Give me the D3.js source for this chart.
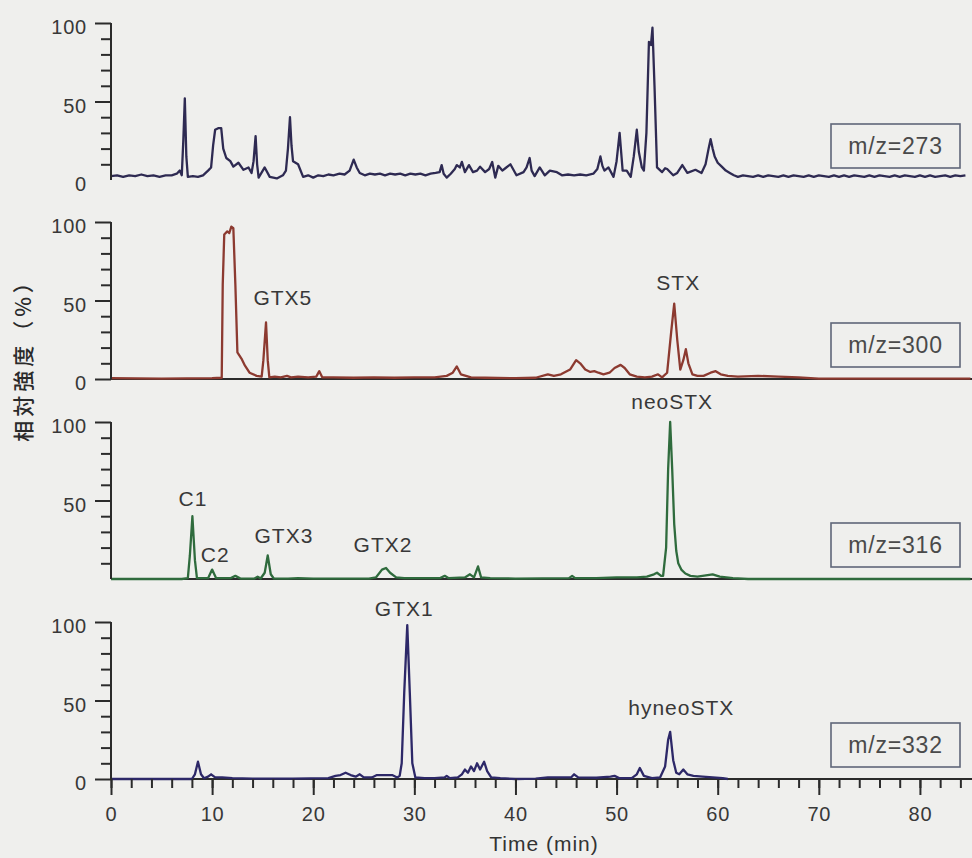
<!DOCTYPE html>
<html><head><meta charset="utf-8">
<script src="https://cdn.jsdelivr.net/npm/d3@7"></script>
<style>html,body{margin:0;padding:0;background:#efefed;} svg{display:block;}</style>
</head><body><svg id="c" width="972" height="858"></svg>
<script>
// ---------- data ----------
const mzLabels = ["m/z=273", "m/z=300", "m/z=316", "m/z=332"];
const xMajorTicks = [0, 10, 20, 30, 40, 50, 60, 70, 80];
const xMinorTicks = [0,2,4,6,8,10,12,14,16,18,20,22,24,26,28,30,32,34,36,38,40,42,44,46,48,50,52,54,56,58,60,62,64,66,68,70,72,74,76,78,80,82,84];
const yLabelTicks = [[0, 50, 100], [0, 50, 100], [50, 100], [0, 50, 100]];
const yMinorTicks = [10, 20, 30, 40, 60, 70, 80, 90];
const yAxisTitle = "相対強度（%）";
const xAxisTitle = "Time (min)";

const mz273 = [
[0,2.5],[0.6,3],[1.2,2],[1.8,3],[2.4,2.5],[3,3.5],[3.6,2.5],[4.2,3],[4.8,2],[5.4,3],[6,3],[6.5,4],[6.8,6],[7.0,3],[7.15,25],[7.3,52],[7.45,15],[7.6,2],[8.1,2.5],[8.6,2],[9.1,3],[9.6,6],[9.9,8],[10.1,22],[10.3,32],[10.6,33],[10.9,33],[11.1,20],[11.4,14],[11.8,12],[12.1,8.5],[12.6,11],[13.1,6.5],[13.6,8],[13.9,4.5],[14.1,12],[14.3,28],[14.45,10],[14.6,1.5],[15.2,8],[15.7,2],[16.4,1],[17.0,3],[17.3,6],[17.5,20],[17.7,40],[17.85,22],[18.0,12],[18.5,10],[19.0,2],[19.5,3],[20,1.5],[20.5,3],[21,2.5],[21.5,3.5],[22,3],[22.6,4],[23.1,3.5],[23.6,6],[24.0,13],[24.3,8],[24.6,4.5],[25.1,3],[25.6,4],[26.1,3.5],[26.6,4],[27.1,3],[27.6,4],[28.1,3.5],[28.6,4],[29.1,3],[29.6,4],[30.1,3.5],[30.6,4],[31.1,3],[31.6,4],[32.1,4.5],[32.5,5],[32.7,9.5],[32.9,4],[33.2,1.5],[33.6,4],[34.0,7],[34.2,9.5],[34.5,8],[34.7,11.5],[35.0,5],[35.4,9.5],[35.8,5],[36.2,6],[36.5,8.5],[37.0,5],[37.4,7],[37.7,11.5],[38.0,1.5],[38.3,9],[38.7,6],[39.0,7.5],[39.5,10],[40.1,3],[40.8,5],[41.1,8],[41.4,14],[41.6,6],[41.9,2.5],[42.4,8],[42.9,3],[43.4,6],[44.1,5],[44.6,3],[45.2,3.5],[45.8,3],[46.4,3.5],[47.0,3],[47.7,4],[48.1,7],[48.4,15],[48.6,9],[48.8,6],[49.2,8],[49.7,2],[50.0,12],[50.3,30],[50.5,14],[50.6,6],[51.0,6],[51.4,2],[51.7,15],[52.0,32],[52.2,18],[52.5,8],[52.7,6],[52.95,30],[53.2,88],[53.4,86],[53.55,97],[53.75,60],[54.0,8],[54.5,5],[54.8,7.5],[55.0,7],[55.6,3],[56.0,4.5],[56.5,9.5],[57.0,4.5],[57.8,6.5],[58.4,4.5],[58.8,10],[59.1,20],[59.3,26],[59.5,20],[59.7,15],[60.0,11],[60.4,8.5],[60.8,6],[61.2,4.5],
[61.6,3],[62,2],[62.5,3],[63,2.5],[63.5,2],[64,3],[64.5,2],[65,3],[65.5,2.5],[66,2],[66.5,3],[67,2],[67.5,3],[68,2.5],[68.5,2],[69,3],[69.5,2],[70,3],[70.5,2.5],[71,2],[71.5,3],[72,2],[72.5,3],[73,2],[73.5,3],[74,2.5],[74.5,2],[75,3],[75.5,2],[76,3],[76.5,2.5],[77,2],[77.5,3],[78,2],[78.5,3],[79,2.5],[79.5,2],[80,3],[80.5,2],[81,3],[81.5,2],[82,2.5],[82.5,3],[83,2],[83.5,3],[84,2.5],[84.5,3]
];

const mz300 = [
[0,0.5],[5,0.3],[10,0.5],[10.95,0.8],[11.05,60],[11.2,92],[11.5,94],[11.7,93],[11.9,97],[12.1,96],[12.3,60],[12.5,17],[12.9,13],[13.25,8.5],[13.7,4],[14.4,2],[14.9,1.5],[15.07,12],[15.33,36],[15.5,12],[15.66,1],[16.2,1.5],[16.8,1],[17.4,2],[17.8,1],[18.5,1.5],[19.5,1],[20.3,1.5],[20.6,5],[20.9,1],[22,1],[24,0.8],[26,1],[28,0.8],[30,1],[32,1],[33.2,2],[33.8,4],[34.2,8],[34.6,3],[35.1,2],[35.6,1],[37,0.8],[40,0.5],[42,0.8],[43.2,3],[43.8,2],[44.5,3],[45.4,6],[46.0,12],[46.4,10],[46.9,6],[47.4,4.5],[47.8,5],[48.2,4],[48.7,3],[49.3,4],[49.8,7],[50.4,9],[50.8,7],[51.3,3],[52,1.5],[52.8,1],[53.5,1.5],[54.1,3],[54.5,1],[55.0,4],[55.4,30],[55.7,48],[56.0,25],[56.3,6],[56.6,12],[56.85,19],[57.1,10],[57.5,3],[58,2],[58.6,2],[59.3,4],[59.8,5],[60.3,3],[61,2],[62,1.5],[64,2],[66,1.5],[68,1],[70,0.3],[85,0.3]
];

const mz316 = [
[0,0],[7,0],[7.6,0.5],[7.8,15],[8.05,40],[8.3,12],[8.5,0.5],[9.6,0.5],[10.0,6],[10.4,0.5],[11.8,0.5],[12.3,2],[12.8,0.3],[14.2,0.3],[14.5,1.5],[14.8,0.3],[15.2,4],[15.5,15],[15.8,3],[16.1,0.3],[17.5,0.3],[18.5,0.5],[20,0.3],[25.5,0.3],[26.2,1],[26.8,6],[27.2,7],[27.6,4],[28.2,1],[29,0.5],[32.5,0.5],[33,2],[33.4,0.5],[35,1],[35.5,3],[35.9,1],[36.3,8],[36.6,1],[37.5,0.5],[40,0.3],[45.3,0.5],[45.6,2],[45.9,0.5],[48,0.5],[50,1],[52,1],[53,1.5],[53.7,3],[54.0,4],[54.4,2],[54.6,2],[54.9,20],[55.1,70],[55.3,100],[55.5,70],[55.7,35],[55.9,18],[56.1,10],[56.4,6],[56.8,3.5],[57.3,2],[58,1.5],[59,2.5],[59.5,3],[60.2,1.5],[61.5,0.5],[63,0],[85,0]
];

const mz332 = [
[0,0],[8.0,0],[8.3,3],[8.6,11],[8.9,3],[9.2,0.5],[9.6,1.5],[9.9,3],[10.3,1],[11,1],[12,0.5],[14,0.3],[18,0.3],[21.5,0.5],[22.2,2],[22.7,2.5],[23.2,4],[23.7,2.5],[24.2,1.5],[24.6,3],[25,1],[25.8,1],[26.3,2.5],[27,2.5],[27.8,2.5],[28.3,1],[28.55,2],[28.75,10],[29.0,55],[29.3,98],[29.55,55],[29.8,10],[30.1,1],[31,0.5],[32,0.5],[33.0,1],[33.2,2],[33.5,0.5],[34.3,1],[34.7,3],[35.0,6],[35.3,4],[35.6,8],[35.9,5],[36.2,10],[36.5,6],[36.9,11],[37.2,5],[37.6,1],[38.5,0.5],[40,0],[42,0.3],[43.2,1],[45.5,1],[45.8,3],[46.2,1],[48,0.8],[49.4,1.5],[49.8,2],[50.3,0.5],[51.5,0.5],[52.0,3],[52.3,7],[52.7,2],[53.5,0.5],[54.3,1],[54.8,8],[55.1,25],[55.3,30],[55.6,12],[55.9,4],[56.2,3],[56.6,6],[57.0,3],[57.6,2],[58.5,1.5],[59.5,1],[60.5,0.5],[61,0]
];

const seriesList = [mz273, mz300, mz316, mz332];

// peak annotations (panel index, label time, label value)
const peakNames  = ["GTX5", "STX", "C1", "C2", "GTX3", "GTX2", "neoSTX", "GTX1", "hyneoSTX"];
const peakPanel  = [1, 1, 2, 2, 2, 2, 2, 3, 3];
const peakTime   = [17.0, 56.1, 8.1, 10.3, 17.1, 26.9, 55.5, 29.0, 56.4];
const peakValue  = [47, 57, 46.5, 11, 23, 17, 108, 104, 41];

// ---------- layout / style ----------
const W = 972, H = 858;
const panelTop = [23, 222, 422, 622];
const panelH = 157;
const traceColors = ["#2e2a52", "#8c3a30", "#2f6b3d", "#2d2868"];
const axisColor = "#2b2b2b";
const textColor = "#383838";
const font = "'Liberation Sans', Arial, Helvetica, sans-serif";

const svg = d3.select("#c");
svg.append("rect").attr("width", W).attr("height", H).attr("fill", "#efefed");

const x = d3.scaleLinear().domain([0, 85.15]).range([111, 972]);

panelTop.forEach((top, i) => {
  const y = d3.scaleLinear().domain([0, 100]).range([top + panelH, top]);
  const g = svg.append("g");

  if (i > 0) {
    g.append("line")
      .attr("x1", x(0)).attr("x2", x(85.15))
      .attr("y1", y(0)).attr("y2", y(0))
      .attr("stroke", axisColor).attr("stroke-width", 2);
  }

  const line = d3.line().x(d => x(d[0])).y(d => y(d[1]));
  g.append("path").datum(seriesList[i])
    .attr("d", line)
    .attr("fill", "none")
    .attr("stroke", traceColors[i])
    .attr("stroke-width", 2.3)
    .attr("stroke-linejoin", "round");

  const majorVals = (i === 0 || i === 2) ? [50, 100] : [0, 50, 100];
  const yMaj = d3.axisLeft(y).tickValues(majorVals).tickSize(16).tickSizeOuter(0).tickPadding(8).tickFormat(d3.format("d"));
  const gy = g.append("g").attr("transform", `translate(${x(0)},0)`).call(yMaj);
  gy.select(".domain").attr("stroke", axisColor).attr("stroke-width", 2).attr("d", `M0,${y(100)}V${y(0)}`);
  gy.selectAll(".tick line").attr("stroke", axisColor).attr("stroke-width", 2);
  gy.selectAll(".tick text").remove();
  g.selectAll(".ylab").data(yLabelTicks[i]).enter().append("text")
    .attr("x", x(0) - 24).attr("y", d => y(d))
    .attr("dy", "0.57em")
    .attr("text-anchor", "end")
    .attr("font-family", font).attr("font-size", 20)
    .attr("letter-spacing", 0.8)
    .attr("fill", textColor)
    .text(d => d);

  const yMin = d3.axisLeft(y).tickValues(yMinorTicks).tickSize(10).tickSizeOuter(0).tickFormat("");
  const gym = g.append("g").attr("transform", `translate(${x(0)},0)`).call(yMin);
  gym.select(".domain").remove();
  gym.selectAll(".tick line").attr("stroke", axisColor).attr("stroke-width", 2);

  const bx = 831, by = top + 101, bw = 129, bh = 44;
  g.append("rect").attr("x", bx).attr("y", by).attr("width", bw).attr("height", bh)
    .attr("fill", "none").attr("stroke", "#5f6678").attr("stroke-width", 1.6);
  g.append("text").attr("x", bx + bw / 2).attr("y", by + bh / 2 + 8)
    .attr("text-anchor", "middle")
    .attr("font-family", font).attr("font-size", 23).attr("letter-spacing", 0.8)
    .attr("fill", "#4a4a4a").text(mzLabels[i]);

  peakNames.forEach((n, k) => {
    if (peakPanel[k] !== i) return;
    g.append("text").attr("x", x(peakTime[k])).attr("y", y(peakValue[k]))
      .attr("text-anchor", "middle")
      .attr("font-family", font).attr("font-size", 21).attr("letter-spacing", 1)
      .attr("fill", textColor).text(n);
  });

  if (i === 3) {
    const xMaj = d3.axisBottom(x).tickValues(xMajorTicks).tickSize(16).tickSizeOuter(0).tickPadding(12).tickFormat(d3.format("d"));
    const gx = g.append("g").attr("transform", `translate(0,${y(0)})`).call(xMaj);
    gx.select(".domain").remove();
    gx.selectAll(".tick line").attr("stroke", axisColor).attr("stroke-width", 2);
    gx.selectAll(".tick text").attr("font-family", font).attr("font-size", 20)
      .attr("letter-spacing", 0.8).attr("fill", textColor);
    const xMin = d3.axisBottom(x).tickValues(xMinorTicks).tickSize(9).tickSizeOuter(0).tickFormat("");
    const gxm = g.append("g").attr("transform", `translate(0,${y(0)})`).call(xMin);
    gxm.select(".domain").remove();
    gxm.selectAll(".tick line").attr("stroke", axisColor).attr("stroke-width", 2);
  }
});

svg.append("text")
  .attr("transform", "translate(22,355) rotate(-90)")
  .attr("text-anchor", "middle")
  .attr("dominant-baseline", "central")
  .attr("font-family", "'Noto Sans CJK JP', 'Noto Sans CJK SC', sans-serif")
  .attr("font-size", 21).attr("font-weight", 500).attr("letter-spacing", 4)
  .attr("fill", "#2a2a2a")
  .text(yAxisTitle);

svg.append("text")
  .attr("x", 544).attr("y", 851)
  .attr("text-anchor", "middle")
  .attr("font-family", font).attr("font-size", 21).attr("letter-spacing", 1)
  .attr("fill", "#333").text(xAxisTitle);
</script>
</body></html>
